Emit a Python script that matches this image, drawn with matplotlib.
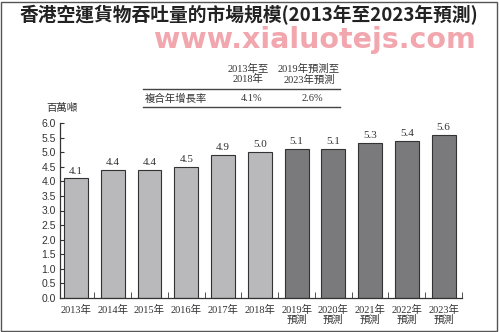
import matplotlib
matplotlib.use("Agg")
import matplotlib.pyplot as plt
from matplotlib.patches import Rectangle
from matplotlib.lines import Line2D
import numpy as np

years = ["2013年", "2014年", "2015年", "2016年", "2017年", "2018年",
         "2019年\n預測", "2020年\n預測", "2021年\n預測", "2022年\n預測", "2023年\n預測"]
values = [4.1, 4.4, 4.4, 4.5, 4.9, 5.0, 5.1, 5.1, 5.3, 5.4, 5.6]
is_forecast = [False] * 6 + [True] * 5
yticks = [0.0, 0.5, 1.0, 1.5, 2.0, 2.5, 3.0, 3.5, 4.0, 4.5, 5.0, 5.5, 6.0]
cagr_periods = ["2013年至\n2018年", "2019年預測至\n2023年預測"]
cagr_values = ["4.1%", "2.6%"]

SERIF = ["Liberation Serif", "Noto Sans CJK TC"]
CJK = ["Noto Sans CJK TC", "DejaVu Sans"]

W, H = 499, 332
fig = plt.figure(figsize=(W / 100, H / 100), dpi=100)
fig.patch.set_facecolor("white")

# frame around image
fig.add_artist(Rectangle((1 / W, 1 / H), 1 - 3 / W, 1 - 3 / H, transform=fig.transFigure,
                         fill=False, edgecolor="#555555", linewidth=1.0))

def fx(px):
    return px / W

def fy(py):
    return 1 - py / H

ax = fig.add_axes([fx(60), fy(298), fx(462) - fx(60), fy(123) - fy(298)])
x = np.arange(len(values))
colors = ["#7a7a7d" if f else "#b9b9bc" for f in is_forecast]
bars = ax.bar(x, values, width=0.65, color=colors, edgecolor="#333333", linewidth=0.8)
for xi, v in zip(x, values):
    ax.text(xi, v + 0.1, f"{v:.1f}", ha="center", va="bottom", fontsize=8,
            family=SERIF, color="#333333")

ax.set_xlim(-0.435, 10.49)
ax.set_ylim(0, 6.0)
ax.set_yticks(yticks)
ax.set_yticklabels([f"{t:.1f}" for t in yticks], fontsize=7.5, family=["Liberation Sans"], color="#333333")
ax.set_xticks(x)
ax.set_xticklabels(years, fontsize=7.5, family=SERIF, color="#333333", linespacing=1.0)
ax.set_xticks(np.arange(0.5, 11, 1), minor=True)
ax.tick_params(axis="x", which="major", length=0, pad=5)
ax.tick_params(axis="x", which="minor", length=4, direction="in", color="#333333")
ax.tick_params(axis="y", length=3, direction="in", pad=3, color="#333333")
for s in ["top", "right"]:
    ax.spines[s].set_visible(False)
for s in ["left", "bottom"]:
    ax.spines[s].set_color("#333333")
    ax.spines[s].set_linewidth(0.9)

# title
fig.text(fx(249), fy(15), "香港空運貨物吞吐量的市場規模(2013年至2023年預測)", ha="center", va="center",
         fontsize=13.5, fontweight="bold", family=CJK, color="#222222")

# watermark
fig.text(fx(315), fy(40), "www.xialuotejs.com", ha="center", va="center",
         fontsize=20.5, fontweight="bold", family=["DejaVu Sans"], color="#f2a6ae")

# CAGR table
for cx, lab in zip([248, 309], cagr_periods):
    fig.text(fx(cx), fy(74), lab, ha="center", va="center", fontsize=7.5, family=SERIF,
             color="#333333", linespacing=1.1)
fig.add_artist(Line2D([fx(143), fx(340)], [fy(89), fy(89)], transform=fig.transFigure,
                      color="#444444", linewidth=1.0))
fig.add_artist(Line2D([fx(143), fx(340)], [fy(107), fy(107)], transform=fig.transFigure,
                      color="#444444", linewidth=1.0))
fig.text(fx(176), fy(98.5), "複合年增長率", ha="center", va="center", fontsize=7.5,
         family=SERIF, color="#333333")
for cx, v in zip([252, 312], cagr_values):
    fig.text(fx(cx), fy(98.5), v, ha="center", va="center", fontsize=7.5, family=SERIF,
             color="#333333")

fig.text(fx(62), fy(108), "百萬噸", ha="center", va="center", fontsize=7.5, family=CJK,
         color="#333333")

fig.savefig("out.png", dpi=100, facecolor="white")
